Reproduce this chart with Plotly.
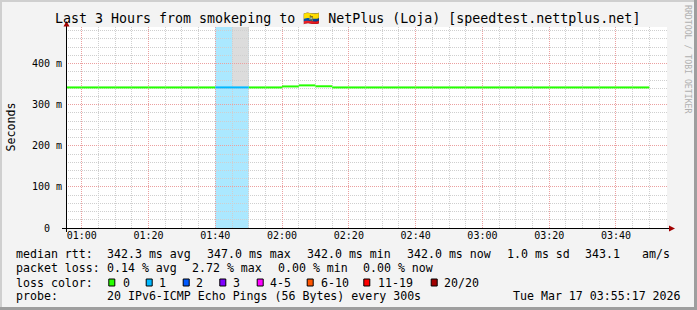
import plotly.graph_objects as go
from datetime import datetime, timedelta

# ---------------- data ----------------
DAY = "2026-03-17"
x_range = ["2026-03-17 00:55:17", "2026-03-17 03:55:17"]
y_range = [0, 489]

slot_start = ["00:55", "01:00", "01:05", "01:10", "01:15", "01:20", "01:25", "01:30",
              "01:35", "01:40", "01:45", "01:50", "01:55", "02:00", "02:05", "02:10",
              "02:15", "02:20", "02:25", "02:30", "02:35", "02:40", "02:45", "02:50",
              "02:55", "03:00", "03:05", "03:10", "03:15", "03:20", "03:25", "03:30",
              "03:35", "03:40", "03:45"]
slot_minutes = 5
median_ms = [342.0, 342.0, 342.0, 342.0, 342.0, 342.0, 342.0, 342.0,
             342.0, 342.0, 342.0, 342.0, 342.0, 344.4, 347.0, 344.8,
             342.0, 342.0, 342.0, 342.0, 342.0, 342.0, 342.0, 342.0,
             342.0, 342.0, 342.0, 342.0, 342.0, 342.0, 342.0, 342.0,
             342.0, 342.0, 342.0]
loss_count = [0, 0, 0, 0, 0, 0, 0, 0,
              0, 1, 1, 0, 0, 0, 0, 0,
              0, 0, 0, 0, 0, 0, 0, 0,
              0, 0, 0, 0, 0, 0, 0, 0,
              0, 0, 0]
smoke_slot = ["01:45"]
smoke_hi_ms = [2000.0]

y_tick_vals = [0, 100, 200, 300, 400]
y_tick_text = ["0\u00a0\u00a0", "100 m", "200 m", "300 m", "400 m"]

loss_labels = ["0", "1", "2", "3", "4-5", "6-10", "11-19", "20/20"]
loss_colors = ["#26ff00", "#00b8ff", "#0059ff", "#7e00ff", "#ff00ff", "#ff5500", "#ff0000", "#a10000"]
loss_upper = [0, 1, 2, 3, 5, 10, 19, 20]

title_text = "Last 3 Hours from smokeping to \U0001F1EA\U0001F1E8 NetPlus (Loja) [speedtest.nettplus.net]"
rtt_label = "median rtt:"
rtt_stats = ["342.3 ms avg", "347.0 ms max", "342.0 ms min", "342.0 ms now", "1.0 ms sd", "343.1", "am/s"]
loss_label = "packet loss:"
loss_stats = ["0.14 % avg", "2.72 % max", "0.00 % min", "0.00 % now"]
color_label = "loss color:"
probe_label = "probe:"
probe_text = "20 IPv6-ICMP Echo Pings (56 Bytes) every 300s"
stamp_text = "Tue Mar 17 03:55:17 2026"
watermark = "RRDTOOL / TOBI OETIKER"

# ---------------- layout geometry ----------------
W, H = 697, 310
L, R, T, B = 66, 30, 27, 82
PW, PH = W - L - R, H - T - B
MONO = "DejaVu Sans Mono"


def px(x):
    return (x - L) / PW


def py(y):
    return (H - B - y) / PH


def bucket(n):
    for i, u in enumerate(loss_upper):
        if n <= u:
            return i
    return len(loss_upper) - 1


def tint(hexcol, a=0.33):
    r, g, b = int(hexcol[1:3], 16), int(hexcol[3:5], 16), int(hexcol[5:7], 16)
    r, g, b = [round(255 - (255 - c) * a) for c in (r, g, b)]
    return "#%02x%02x%02x" % (r, g, b)


def t(s):
    return datetime.strptime(DAY + " " + s, "%Y-%m-%d %H:%M")


fig = go.Figure()
shapes = []

# loss background bands
for s, n in zip(slot_start, loss_count):
    if n > 0:
        shapes.append(dict(type="rect", xref="x", yref="paper", x0=t(s),
                           x1=t(s) + timedelta(minutes=slot_minutes), y0=0, y1=1,
                           fillcolor=tint(loss_colors[bucket(n)]), line_width=0, layer="below"))
# smoke
for s, hi in zip(smoke_slot, smoke_hi_ms):
    i = slot_start.index(s)
    shapes.append(dict(type="rect", xref="x", yref="y", x0=t(s),
                       x1=t(s) + timedelta(minutes=slot_minutes), y0=median_ms[i] + 2,
                       y1=min(hi, y_range[1]), fillcolor="#dcdcdc", line_width=0, layer="below"))

# median line coloured by loss
groups = {}
for s, v, n in zip(slot_start, median_ms, loss_count):
    b = bucket(n)
    xs, ys = groups.setdefault(b, ([], []))
    xs += [t(s), t(s) + timedelta(minutes=slot_minutes), None]
    ys += [v, v, None]
for b, (xs, ys) in groups.items():
    fig.add_trace(go.Scatter(x=xs, y=ys, mode="lines", line=dict(color=loss_colors[b], width=2),
                             hoverinfo="skip", showlegend=False, connectgaps=False))

# axis lines and arrows
shapes.append(dict(type="line", xref="paper", yref="paper", x0=px(62), x1=px(669), y0=py(228.5), y1=py(228.5),
                   line=dict(color="#000000", width=1)))
shapes.append(dict(type="line", xref="paper", yref="paper", x0=px(66.5), x1=px(66.5), y0=py(232), y1=py(26),
                   line=dict(color="#000000", width=1)))
shapes.append(dict(type="path", xref="paper", yref="paper",
                   path="M %f %f L %f %f L %f %f Z" % (px(63.5), py(26.5), px(69.5), py(26.5), px(66.5), py(21)),
                   fillcolor="#a10000", line_width=0))
shapes.append(dict(type="path", xref="paper", yref="paper",
                   path="M %f %f L %f %f L %f %f Z" % (px(669), py(225.5), px(669), py(231.5), px(675), py(228.5)),
                   fillcolor="#a10000", line_width=0))

# frame
shapes += [
    dict(type="rect", xref="paper", yref="paper", x0=px(0), x1=px(W), y0=py(0), y1=py(2), fillcolor="#cfcfcf", line_width=0),
    dict(type="rect", xref="paper", yref="paper", x0=px(0), x1=px(2), y0=py(0), y1=py(H), fillcolor="#cfcfcf", line_width=0),
    dict(type="rect", xref="paper", yref="paper", x0=px(694), x1=px(W), y0=py(0), y1=py(H), fillcolor="#9e9e9e", line_width=0),
    dict(type="rect", xref="paper", yref="paper", x0=px(0), x1=px(W), y0=py(307), y1=py(H), fillcolor="#9e9e9e", line_width=0),
]

annotations = []


def text(x, y, s, size=11.6, color="#000000", **kw):
    d = dict(x=px(x), y=py(y), xref="paper", yref="paper", text=s, showarrow=False,
             xanchor="left", yanchor="middle", borderpad=0, borderwidth=0,
             font=dict(family=MONO, size=size, color=color))
    d.update(kw)
    annotations.append(d)


text(347.5, 18.5, title_text, size=13.3, xanchor="center")
text(10.5, 127, "Seconds", textangle=-90, xanchor="center")
text(688, 59, watermark, size=8.2, color="#b0b0b0", textangle=90, xanchor="center")

row_y = [254.3, 268.3, 282.5, 296]
text(15.5, row_y[0], rtt_label)
for xx, s in zip([106.7, 206.7, 306.7, 406.7, 507, 585.4, 642], rtt_stats):
    text(xx, row_y[0], s)
text(15.5, row_y[1], loss_label)
for xx, s in zip([106.7, 192.1, 277.7, 362.7], loss_stats):
    text(xx, row_y[1], s)
text(15.5, row_y[2], color_label)
sq_x = [108.3, 145.7, 182.7, 219.3, 256.7, 306.7, 363.3, 430.7]
lab_x = [123.3, 160, 196.7, 233.3, 270.7, 321.7, 378.3, 445]
for sx, lx, lab, col in zip(sq_x, lab_x, loss_labels, loss_colors):
    shapes.append(dict(type="rect", xref="paper", yref="paper", x0=px(sx + 0.5), x1=px(sx + 6.5),
                       y0=py(279), y1=py(286), fillcolor=col, line=dict(color="#000000", width=1)))
    text(lx - 0.6, row_y[2], lab)
text(15.5, row_y[3], probe_label)
text(106.7, row_y[3], probe_text)
text(512.7, row_y[3], stamp_text)

grid_dash = "1px,1px"
fig.update_layout(
    width=W, height=H, margin=dict(l=L, r=R, t=T, b=B, pad=0),
    paper_bgcolor="#f3f3f3", plot_bgcolor="#ffffff",
    shapes=shapes, annotations=annotations, showlegend=False,
    xaxis=dict(type="date", range=x_range, showline=False, zeroline=False,
               tickformat="%H:%M", dtick=20 * 60 * 1000, tick0=DAY + " 01:00:00",
               ticks="", tickfont=dict(family=MONO, size=10, color="#000000"),
               showgrid=True, gridcolor="#eba0a0", griddash=grid_dash, gridwidth=1,
               minor=dict(dtick=5 * 60 * 1000, tick0=DAY + " 01:00:00", showgrid=True,
                          gridcolor="#cfcfcf", griddash=grid_dash, gridwidth=1),
               fixedrange=True),
    yaxis=dict(range=y_range, showline=False, zeroline=False,
               tickmode="array", tickvals=y_tick_vals, ticktext=y_tick_text,
               ticks="", ticklabelstandoff=3, tickfont=dict(family=MONO, size=10, color="#000000"),
               showgrid=True, gridcolor="#eba0a0", griddash=grid_dash, gridwidth=1,
               minor=dict(dtick=20, tick0=0, showgrid=True, gridcolor="#cfcfcf",
                          griddash=grid_dash, gridwidth=1),
               fixedrange=True),
)

fig.write_html("out.html", config={"displayModeBar": False})
